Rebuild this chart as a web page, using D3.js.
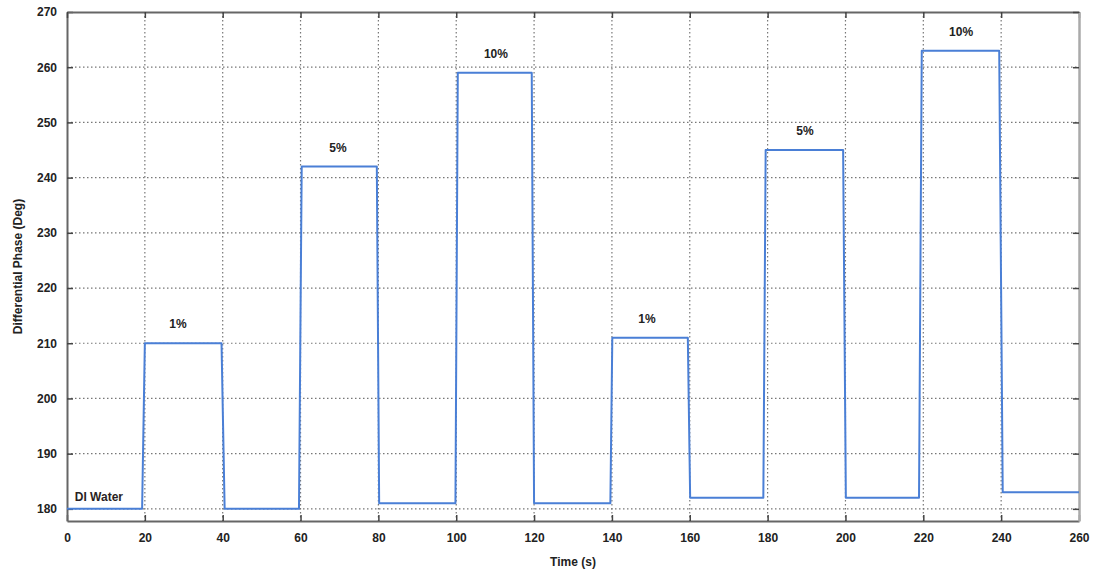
<!DOCTYPE html>
<html><head><meta charset="utf-8">
<script src="https://cdn.jsdelivr.net/npm/d3@7"></script>
<style>body{margin:0;background:#fff;}svg{display:block;}</style>
</head><body>
<script>
// Data
const times = [0, 19.3, 20.0, 39.7, 40.5, 59.6, 60.3, 79.6, 80.2, 99.8, 100.4, 119.4, 120.0, 139.6, 140.1, 159.5, 160.1, 178.9, 179.5, 199.4, 200.1, 218.9, 219.6, 239.5, 240.4, 260];
const phase = [180, 180, 210, 210, 180, 180, 242, 242, 181, 181, 259, 259, 181, 181, 211, 211, 182, 182, 245, 245, 182, 182, 263, 263, 183, 183];
const labelText = ["DI Water", "1%", "5%", "10%", "1%", "5%", "10%"];
const labelTime = [2, 28.5, 69.6, 110.2, 149, 189.6, 229.7];
const labelLevel = [180, 210, 242, 259, 211, 245, 263];
const xTicks = [0,20,40,60,80,100,120,140,160,180,200,220,240,260];
const yTicks = [180,190,200,210,220,230,240,250,260,270];

const W = 1094, H = 573;
const m = {left: 67, right: 1079, top: 12, bottom: 521};
const svg = d3.select("body").append("svg").attr("width", W).attr("height", H);
const x = d3.scaleLinear().domain([0, 260]).range([m.left, m.right]);
const y = d3.scaleLinear().domain([177.8, 270]).range([m.bottom, m.top]);
const font = "Liberation Sans, Arial, sans-serif";

// grid
const g = svg.append("g");
g.selectAll(".gx").data(xTicks.slice(1, -1)).join("line")
  .attr("x1", d => x(d)).attr("x2", d => x(d)).attr("y1", m.top).attr("y2", m.bottom)
  .attr("stroke", "#777").attr("stroke-width", 1.2).attr("stroke-dasharray", "1.5,2.5");
g.selectAll(".gy").data(yTicks.slice(0, -1)).join("line")
  .attr("y1", d => y(d)).attr("y2", d => y(d)).attr("x1", m.left).attr("x2", m.right)
  .attr("stroke", "#777").attr("stroke-width", 1.2).attr("stroke-dasharray", "1.5,2.5");

// axes (inward ticks)
const axB = svg.append("g").attr("transform", `translate(0,${m.bottom})`)
  .call(d3.axisBottom(x).tickValues(xTicks).tickSizeInner(-6).tickSizeOuter(0).tickPadding(12));
const axL = svg.append("g").attr("transform", `translate(${m.left},0)`)
  .call(d3.axisLeft(y).tickValues(yTicks).tickSizeInner(-6).tickSizeOuter(0).tickPadding(10));
const axT = svg.append("g").attr("transform", `translate(0,${m.top})`)
  .call(d3.axisTop(x).tickValues(xTicks).tickSizeInner(-6).tickSizeOuter(0).tickFormat(""));
const axR = svg.append("g").attr("transform", `translate(${m.right},0)`)
  .call(d3.axisRight(y).tickValues(yTicks).tickSizeInner(-6).tickSizeOuter(0).tickFormat(""));
[axB, axL, axT, axR].forEach(a => {
  a.select(".domain").attr("stroke", "#666").attr("stroke-width", 2);
  a.selectAll(".tick line").attr("stroke", "#444").attr("stroke-width", 1.5);
  a.selectAll(".tick text").attr("font-family", font).attr("font-weight", "bold")
    .attr("font-size", 12).attr("fill", "#222");
});
axR.select(".domain").attr("stroke", "#aaa").attr("stroke-width", 2.5);

// line
const line = d3.line().x((d, i) => x(times[i])).y((d, i) => y(phase[i]));
svg.append("path").datum(phase).attr("d", line).attr("fill", "none")
  .attr("stroke", "#4a7fd6").attr("stroke-width", 2).attr("stroke-linejoin", "round");

// annotations
svg.selectAll(".lab").data(labelText).join("text")
  .attr("x", (d, i) => i === 0 ? x(labelTime[i]) : x(labelTime[i]))
  .attr("y", (d, i) => i === 0 ? y(labelLevel[i]) - 8 : y(labelLevel[i]) - 15)
  .attr("text-anchor", (d, i) => i === 0 ? "start" : "middle")
  .attr("font-family", font).attr("font-weight", "bold").attr("font-size", 12)
  .attr("fill", (d, i) => i === 0 ? "#2a1f24" : "#222").text(d => d);

// axis titles
svg.append("text").attr("x", (m.left + m.right) / 2).attr("y", 566).attr("text-anchor", "middle")
  .attr("font-family", font).attr("font-weight", "bold").attr("font-size", 12).attr("fill", "#222")
  .text("Time (s)");
svg.append("text").attr("transform", `translate(22,${(m.top + m.bottom) / 2}) rotate(-90)`)
  .attr("text-anchor", "middle").attr("font-family", font).attr("font-weight", "bold")
  .attr("font-size", 12).attr("fill", "#222").text("Differential Phase (Deg)");
</script>
</body></html>
